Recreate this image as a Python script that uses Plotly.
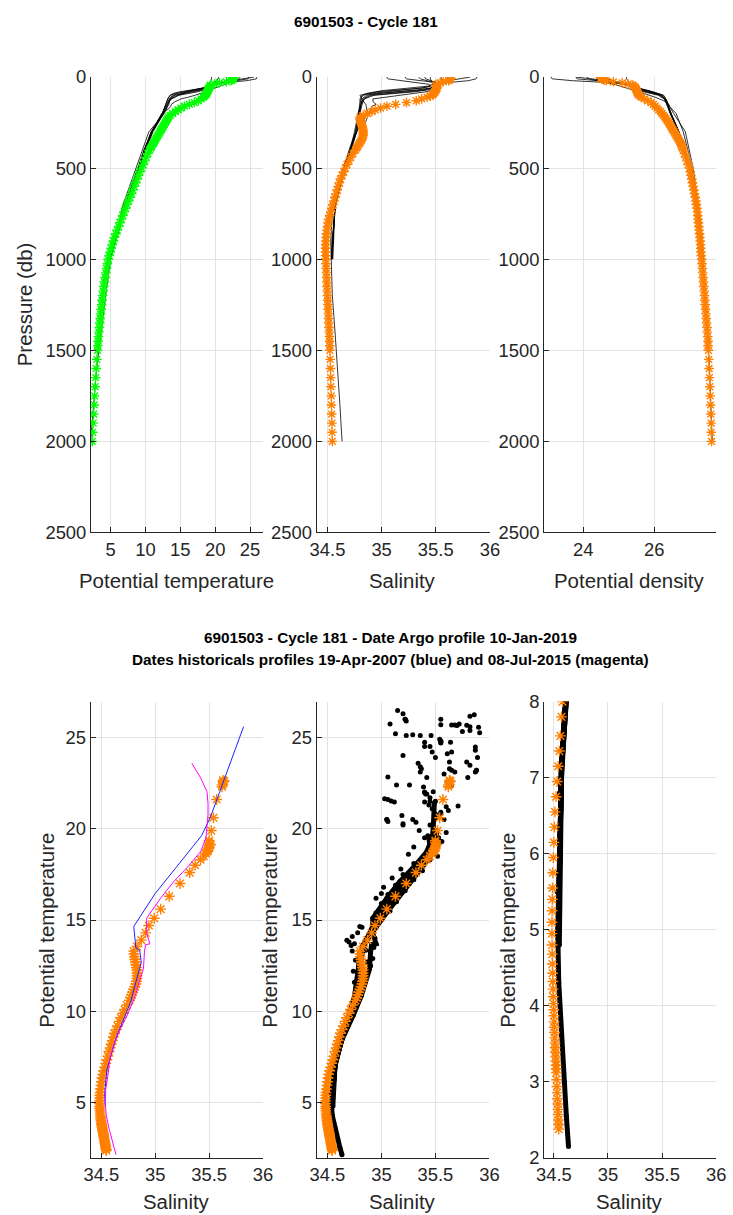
import plotly.graph_objects as go

# ---------------- Argo profile 6901503, cycle 181 ----------------
argo_pres = [4, 8, 12, 16, 20, 26, 32, 38, 44, 50, 56, 62, 68, 74, 80, 86, 92, 98, 104, 110,
             120, 130, 140, 150, 160, 170, 180, 190, 200, 210, 220, 230, 240, 250, 260, 270, 280, 290, 300,
             310, 320, 330, 340, 350, 360, 370, 380, 390, 400,
             420, 440, 460, 480, 500, 520, 540, 560, 580, 600, 620, 640, 660, 680, 700, 720, 740, 760, 780, 800,
             820, 840, 860, 880, 900, 920, 940, 960, 980, 1000,
             1025, 1050, 1075, 1100, 1125, 1150, 1175, 1200, 1225, 1250, 1275, 1300, 1325, 1350, 1375, 1400,
             1425, 1450, 1475, 1500,
             1550, 1600, 1650, 1700, 1750, 1800, 1850, 1900, 1950, 2000]
argo_theta = [22.65, 22.60, 22.55, 22.40, 22.30, 21.60, 20.60, 19.90, 19.35, 19.25, 19.15, 19.10, 19.00, 18.95,
              18.90, 18.80, 18.75, 18.65, 18.50, 18.30,
              18.00, 17.60, 17.00, 16.30, 15.60, 15.10, 14.70, 14.30, 13.90, 13.55, 13.30, 13.15, 13.00, 12.85,
              12.70, 12.55, 12.40, 12.25, 12.10,
              11.95, 11.80, 11.65, 11.50, 11.35, 11.20, 11.05, 10.90, 10.75, 10.60,
              10.35, 10.10, 9.90, 9.65, 9.45, 9.20, 9.00, 8.80, 8.60, 8.40, 8.20, 8.00, 7.80, 7.55, 7.35, 7.15,
              6.95, 6.75, 6.55, 6.35,
              6.15, 5.95, 5.75, 5.55, 5.40, 5.25, 5.10, 4.95, 4.80, 4.68,
              4.55, 4.43, 4.32, 4.22, 4.12, 4.03, 3.95, 3.87, 3.79, 3.72, 3.65, 3.58, 3.51, 3.45, 3.39, 3.33,
              3.27, 3.22, 3.17, 3.12,
              3.03, 2.94, 2.86, 2.78, 2.71, 2.64, 2.57, 2.50, 2.44, 2.38]
argo_sal = [35.63, 35.64, 35.63, 35.62, 35.62, 35.57, 35.54, 35.52, 35.50, 35.50, 35.51, 35.51, 35.50, 35.50,
            35.49, 35.49, 35.48, 35.47, 35.45, 35.42,
            35.37, 35.32, 35.23, 35.13, 35.05, 34.99, 34.94, 34.91, 34.87, 34.83, 34.80, 34.80, 34.805, 34.81,
            34.815, 34.82, 34.825, 34.83, 34.83,
            34.83, 34.83, 34.825, 34.82, 34.81, 34.80, 34.79, 34.78, 34.77, 34.76,
            34.735, 34.715, 34.70, 34.68, 34.665, 34.65, 34.635, 34.62, 34.61, 34.60, 34.59, 34.58, 34.57,
            34.56, 34.55, 34.54, 34.53, 34.52, 34.51, 34.505,
            34.50, 34.495, 34.49, 34.487, 34.485, 34.483, 34.482, 34.482, 34.483, 34.484,
            34.486, 34.488, 34.49, 34.492, 34.494, 34.496, 34.498, 34.50, 34.502, 34.504, 34.506, 34.508,
            34.51, 34.512, 34.514, 34.516, 34.518, 34.52, 34.521, 34.522,
            34.525, 34.528, 34.53, 34.532, 34.535, 34.537, 34.539, 34.541, 34.543, 34.545]
argo_sigma = [24.50, 24.52, 24.55, 24.60, 24.65, 24.85, 25.10, 25.27, 25.40, 25.43, 25.47, 25.48, 25.50, 25.51,
              25.52, 25.53, 25.54, 25.56, 25.60, 25.64,
              25.72, 25.82, 25.92, 25.98, 26.03, 26.08, 26.13, 26.18, 26.22, 26.26, 26.30, 26.34, 26.37, 26.41,
              26.44, 26.47, 26.50, 26.53, 26.56,
              26.59, 26.62, 26.65, 26.68, 26.71, 26.74, 26.76, 26.78, 26.80, 26.82,
              26.86, 26.89, 26.93, 26.96, 27.00, 27.02, 27.04, 27.06, 27.08, 27.10, 27.12, 27.14, 27.16, 27.18,
              27.19, 27.21, 27.22, 27.23, 27.24, 27.25,
              27.26, 27.27, 27.28, 27.29, 27.30, 27.31, 27.31, 27.32, 27.33, 27.34,
              27.35, 27.36, 27.37, 27.38, 27.39, 27.40, 27.41, 27.42, 27.43, 27.44, 27.45, 27.46, 27.47, 27.48,
              27.49, 27.50, 27.51, 27.52, 27.52, 27.53,
              27.54, 27.55, 27.56, 27.57, 27.58, 27.59, 27.60, 27.61, 27.61, 27.62]

# ---------------- Historical profile 19-Apr-2007 (blue) ----------------
blue_pres = [0, 30, 50, 75, 100, 125, 150, 200, 300, 500, 700, 900, 1000]
blue_theta = [25.59, 20.60, 19.62, 16.46, 14.65, 13.47, 13.35, 12.70, 10.50, 8.70, 6.80, 5.50, 4.80]
blue_sal = [35.82, 35.51, 35.43, 35.00, 34.80, 34.82, 34.855, 34.87, 34.77, 34.645, 34.55, 34.53, 34.535]
blue_sigma = [23.80, 25.10, 25.32, 25.85, 26.15, 26.35, 26.40, 26.55, 26.88, 27.10, 27.24, 27.34, 27.39]

# ---------------- Historical profile 08-Jul-2015 (magenta) ----------------
mag_pres = [0, 10, 20, 30, 40, 50, 60, 70, 80, 90, 100, 110, 120, 135, 150, 160, 175, 200, 250, 300,
            400, 500, 600, 700, 800, 900, 1000, 1200, 1400, 1600, 1800, 2000]
mag_theta = [23.58, 23.40, 22.80, 22.03, 21.40, 20.75, 20.00, 19.47, 18.74, 17.90, 17.10, 16.20, 15.10, 14.27,
             13.70, 13.65, 13.30, 12.33, 11.60, 10.87, 9.80, 9.05, 8.20, 7.40, 6.50, 5.75, 5.00, 4.30, 3.60,
             3.00, 2.55, 2.15]
mag_sal = [35.34, 35.36, 35.42, 35.48, 35.49, 35.49, 35.48, 35.47, 35.42, 35.30, 35.17, 35.05, 34.92, 34.92,
           34.95, 34.91, 34.90, 34.89, 34.85, 34.815, 34.74, 34.676, 34.615, 34.578, 34.56, 34.54, 34.535,
           34.545, 34.57, 34.595, 34.615, 34.635]
mag_sigma = [24.10, 24.17, 24.40, 24.68, 24.87, 25.05, 25.25, 25.38, 25.55, 25.72, 25.88, 26.02, 26.15, 26.32,
             26.42, 26.43, 26.50, 26.62, 26.72, 26.82, 26.95, 27.06, 27.14, 27.22, 27.28, 27.33, 27.38, 27.45,
             27.51, 27.56, 27.60, 27.64]

# ---------------- Other historical profiles (black) ----------------
hist_pres = [0, 5, 10, 20, 30, 40, 50, 60, 70, 80, 90, 100, 120, 150, 200, 300, 400, 500, 700, 1000]
h3_theta = [26.0, 26.0, 25.9, 24.5, 21.5, 19.8, 19.2, 18.8, 18.2, 17.0, 15.5, 14.3, 13.6, 13.2, 12.6, 11.0, 9.9, 9.0, 7.1, 4.9]
h3_sal = [35.22, 35.22, 35.23, 35.40, 35.50, 35.51, 35.50, 35.47, 35.41, 35.26, 35.06, 34.90, 34.84, 34.82, 34.80, 34.77, 34.71, 34.66, 34.57, 34.54]
h3_sigma = [23.10, 23.10, 23.14, 23.70, 24.68, 25.20, 25.37, 25.45, 25.55, 25.76, 26.02, 26.20, 26.30, 26.36, 26.45, 26.68, 26.87, 27.02, 27.21, 27.37]
h4_theta = [23.2, 23.2, 23.1, 22.8, 21.0, 19.5, 18.9, 18.5, 17.6, 16.0, 14.6, 13.9, 13.4, 13.0, 12.4, 10.9, 9.8, 8.9, 7.0, 4.8]
h4_sal = [35.88, 35.88, 35.87, 35.80, 35.62, 35.53, 35.50, 35.45, 35.33, 35.12, 34.95, 34.86, 34.82, 34.81, 34.79, 34.76, 34.70, 34.65, 34.57, 34.55]
h4_sigma = [24.37, 24.37, 24.40, 24.45, 24.95, 25.32, 25.45, 25.53, 25.66, 25.88, 26.08, 26.22, 26.30, 26.38, 26.48, 26.70, 26.88, 27.03, 27.21, 27.38]
h5_theta = [20.5, 20.5, 20.4, 20.2, 19.9, 19.5, 19.0, 18.3, 16.8, 15.0, 14.0, 13.5, 13.2, 12.9, 12.5, 10.8, 9.9, 9.0, 7.2, 4.9]
h5_sal = [35.05, 35.05, 35.06, 35.20, 35.35, 35.44, 35.45, 35.38, 35.17, 34.96, 34.86, 34.82, 34.81, 34.80, 34.79, 34.75, 34.71, 34.66, 34.57, 34.54]
h5_sigma = [24.65, 24.65, 24.68, 24.85, 25.05, 25.23, 25.38, 25.52, 25.72, 25.95, 26.15, 26.27, 26.33, 26.38, 26.46, 26.70, 26.86, 27.01, 27.20, 27.36]
h6_theta = [24.8, 24.8, 24.7, 23.0, 20.8, 19.6, 19.1, 18.6, 17.9, 16.5, 15.0, 14.1, 13.5, 13.1, 12.5, 11.0, 10.0, 9.1, 7.2, 4.9]
h6_sal = [35.55, 35.55, 35.55, 35.58, 35.55, 35.51, 35.49, 35.46, 35.38, 35.18, 34.98, 34.88, 34.83, 34.81, 34.79, 34.77, 34.71, 34.66, 34.57, 34.54]
h6_sigma = [23.80, 23.80, 23.84, 24.40, 25.00, 25.30, 25.42, 25.50, 25.60, 25.80, 26.02, 26.20, 26.30, 26.37, 26.47, 26.70, 26.86, 27.01, 27.20, 27.36]
h7_theta = [22.0, 22.0, 21.9, 21.5, 20.8, 19.9, 19.3, 18.9, 18.4, 17.6, 16.2, 14.8, 13.7, 13.2, 12.6, 11.1, 10.0, 9.1, 7.2, 4.9]
h7_sal = [35.40, 35.40, 35.41, 35.45, 35.50, 35.51, 35.50, 35.48, 35.43, 35.32, 35.10, 34.93, 34.84, 34.81, 34.80, 34.77, 34.72, 34.66, 34.57, 34.54]
h7_sigma = [24.50, 24.50, 24.53, 24.70, 24.95, 25.20, 25.35, 25.45, 25.54, 25.68, 25.90, 26.12, 26.28, 26.36, 26.46, 26.69, 26.86, 27.01, 27.20, 27.36]
h8_theta = [19.5, 19.5, 19.5, 19.4, 19.3, 19.1, 18.8, 18.2, 17.0, 15.5, 14.3, 13.6, 13.2, 12.9, 12.4, 10.9, 9.9, 9.0, 7.1, 4.9]
h8_sal = [35.45, 35.45, 35.45, 35.46, 35.47, 35.47, 35.45, 35.37, 35.20, 35.02, 34.90, 34.83, 34.80, 34.80, 34.79, 34.76, 34.71, 34.66, 34.57, 34.54]
h8_sigma = [25.22, 25.22, 25.22, 25.26, 25.30, 25.36, 25.42, 25.55, 25.72, 25.93, 26.12, 26.25, 26.33, 26.38, 26.48, 26.70, 26.87, 27.02, 27.21, 27.37]

# ---------------- Additional historical theta-S points ----------------
extra_theta = [26.48, 26.29, 25.74, 25.20, 25.10, 25.14, 25.10, 25.10, 24.74, 24.50, 24.20, 23.90, 26.00, 25.70,
               24.90, 24.74, 24.74, 24.10, 23.65, 23.28, 24.20, 25.68, 25.68, 25.65, 25.74, 25.33, 25.66, 26.16,
               26.24, 25.38, 25.56, 25.25, 24.47, 24.30, 23.90, 23.65, 23.47, 23.20, 23.10, 23.28, 23.10, 24.01,
               22.83, 22.40, 22.40, 22.28, 21.90, 21.70, 21.64, 21.60, 21.52, 21.46, 20.73, 20.27, 21.24, 22.37,
               21.46, 21.30, 21.10, 20.50, 20.35,
               19.50, 19.00, 18.60, 17.80, 17.30, 16.80, 16.20, 19.80, 20.50, 20.90, 21.20, 20.20, 19.30, 18.50,
               13.90, 13.80, 13.60, 14.10, 13.70, 14.30, 13.30, 12.80, 12.20, 11.60, 14.60, 14.00, 13.50, 12.90, 12.50,
               18.10, 17.50, 16.90, 16.40, 15.90, 15.40, 19.10, 18.80, 18.30, 17.70, 17.20, 16.60, 16.00, 15.50]
extra_sal = [35.15, 35.20, 35.08, 35.13, 35.23, 35.29, 35.36, 35.46, 35.40, 35.45, 35.47, 35.50, 35.55, 35.55,
             35.54, 35.55, 35.64, 35.61, 35.63, 35.63, 35.65, 35.65, 35.68, 35.70, 35.72, 35.75, 35.79, 35.82,
             35.86, 35.82, 35.90, 35.91, 35.87, 35.87, 35.89, 35.79, 35.82, 35.65, 35.68, 35.37, 35.36, 35.20,
             35.06, 35.14, 35.26, 35.39, 35.42, 35.45, 35.03, 35.06, 35.09, 35.12, 35.19, 35.20, 35.71, 35.65,
             35.40, 35.44, 35.47, 35.29, 35.32,
             35.40, 35.30, 35.25, 35.18, 35.10, 35.02, 34.95, 35.60, 35.58, 35.55, 35.60, 35.45, 35.56, 35.52,
             34.68, 34.70, 34.72, 34.73, 34.75, 34.78, 34.73, 34.76, 34.74, 34.75, 34.82, 34.94, 34.93, 34.92, 34.90,
             35.30, 35.20, 35.13, 35.06, 35.00, 34.95, 35.52, 35.50, 35.45, 35.38, 35.30, 35.22, 35.14, 35.08]

# ---------------- Figure geometry (target page pixels -> figure pixels) ----------------
SX, SY, OX, OY = 0.976, 0.982, 8.0, 10.0
W = int(round((733 - OX) / SX))
H = int(round((1215 - OY) / SY))
FS = 1 / ((SX + SY) / 2)     # font compensation
FONT = "Liberation Sans, Arial, Helvetica, sans-serif"
GREEN = "#00ff00"
ORANGE = "#ff8000"
TXT = "#262626"


def fx(px):
    return ((px - OX) / SX) / W


def fy(py):
    return 1 - ((py - OY) / SY) / H


hist_profiles = [
    (blue_pres, blue_theta, blue_sal, blue_sigma, False),
    (mag_pres, mag_theta, mag_sal, mag_sigma, True),
    (hist_pres, h3_theta, h3_sal, h3_sigma, True),
    (hist_pres, h4_theta, h4_sal, h4_sigma, True),
    (hist_pres, h5_theta, h5_sal, h5_sigma, True),
    (hist_pres, h6_theta, h6_sal, h6_sigma, True),
    (hist_pres, h7_theta, h7_sal, h7_sigma, True),
    (hist_pres, h8_theta, h8_sal, h8_sigma, True),
]


def asterisk(color, size):
    return dict(symbol="asterisk-open", size=size, color=color, line=dict(color=color, width=1.4))


fig = go.Figure()

# --- Top row: property vs pressure ---
for axn, idx in (("", 1), ("2", 2), ("3", 3)):
    for prof in hist_profiles:
        fig.add_trace(go.Scatter(x=prof[idx], y=prof[0], mode="lines",
                                 line=dict(color="black", width=0.8),
                                 xaxis="x" + axn, yaxis="y" + axn, showlegend=False, hoverinfo="skip"))

fig.add_trace(go.Scatter(x=argo_theta, y=argo_pres, mode="markers", marker=asterisk(GREEN, 8),
                         xaxis="x", yaxis="y", showlegend=False))
fig.add_trace(go.Scatter(x=argo_sal, y=argo_pres, mode="markers", marker=asterisk(ORANGE, 8),
                         xaxis="x2", yaxis="y2", showlegend=False))
fig.add_trace(go.Scatter(x=argo_sigma, y=argo_pres, mode="markers", marker=asterisk(ORANGE, 8),
                         xaxis="x3", yaxis="y3", showlegend=False))

# --- Bottom left: Argo + two historical profiles ---
fig.add_trace(go.Scatter(x=argo_sal, y=argo_theta, mode="markers", marker=asterisk(ORANGE, 9),
                         xaxis="x4", yaxis="y4", showlegend=False))
fig.add_trace(go.Scatter(x=blue_sal, y=blue_theta, mode="lines", line=dict(color="#2020ff", width=1),
                         xaxis="x4", yaxis="y4", showlegend=False))
fig.add_trace(go.Scatter(x=mag_sal, y=mag_theta, mode="lines", line=dict(color="#ff00ff", width=1),
                         xaxis="x4", yaxis="y4", showlegend=False))

# --- Bottom middle & right: all historical data ---
for axn in ("5", "6"):
    for prof in hist_profiles:
        pres, th, sa, dense = prof[0], prof[1], prof[2], prof[4]
        if dense:
            deep_s = [s for p, s in zip(pres, sa) if p >= 40]
            deep_t = [t for p, t in zip(pres, th) if p >= 40]
            fig.add_trace(go.Scatter(x=deep_s, y=deep_t, mode="lines", line=dict(color="black", width=5),
                                     xaxis="x" + axn, yaxis="y" + axn, showlegend=False, hoverinfo="skip"))
        fig.add_trace(go.Scatter(x=sa, y=th, mode="markers", marker=dict(color="black", size=5),
                                 xaxis="x" + axn, yaxis="y" + axn, showlegend=False))
    fig.add_trace(go.Scatter(x=extra_sal, y=extra_theta, mode="markers", marker=dict(color="black", size=5),
                             xaxis="x" + axn, yaxis="y" + axn, showlegend=False))
    fig.add_trace(go.Scatter(x=argo_sal, y=argo_theta, mode="markers", marker=asterisk(ORANGE, 9),
                             xaxis="x" + axn, yaxis="y" + axn, showlegend=False))

axis_common = dict(showline=True, linecolor=TXT, linewidth=1, ticks="inside", ticklen=5, tickcolor=TXT,
                   showgrid=True, gridcolor="#e3e3e3", gridwidth=1, zeroline=False, mirror=False,
                   tickfont=dict(family=FONT, size=18 * FS, color=TXT))

top_y = [fy(531), fy(76)]
bot_y = [fy(1156), fy(700)]
sal_ticks = dict(tickvals=[34.5, 35, 35.5, 36], ticktext=["34.5", "35", "35.5", "36"])
pres_ticks = dict(tickvals=[0, 500, 1000, 1500, 2000, 2500])

layout = dict(
    width=W, height=H, margin=dict(l=0, r=0, t=0, b=0), autosize=False,
    paper_bgcolor="white", plot_bgcolor="white", showlegend=False,
    font=dict(family=FONT, color=TXT),
    xaxis=dict(domain=[fx(91), fx(262.7)], anchor="y", range=[2.19, 26.81], tickvals=[5, 10, 15, 20, 25], **axis_common),
    yaxis=dict(domain=top_y, anchor="x", range=[2500, 0], **pres_ticks, **axis_common),
    xaxis2=dict(domain=[fx(316.7), fx(490)], anchor="y2", range=[34.4, 36], **sal_ticks, **axis_common),
    yaxis2=dict(domain=top_y, anchor="x2", range=[2500, 0], **pres_ticks, **axis_common),
    xaxis3=dict(domain=[fx(544.3), fx(716)], anchor="y3", range=[22.9, 27.74], tickvals=[24, 26], **axis_common),
    yaxis3=dict(domain=top_y, anchor="x3", range=[2500, 0], **pres_ticks, **axis_common),
    xaxis4=dict(domain=[fx(90.7), fx(263)], anchor="y4", range=[34.4, 36], **sal_ticks, **axis_common),
    yaxis4=dict(domain=bot_y, anchor="x4", range=[1.97, 26.96], tickvals=[5, 10, 15, 20, 25], **axis_common),
    xaxis5=dict(domain=[fx(316.7), fx(489.5)], anchor="y5", range=[34.4, 36], **sal_ticks, **axis_common),
    yaxis5=dict(domain=bot_y, anchor="x5", range=[1.97, 26.96], tickvals=[5, 10, 15, 20, 25], **axis_common),
    xaxis6=dict(domain=[fx(544.3), fx(716.3)], anchor="y6", range=[34.41, 36], **sal_ticks, **axis_common),
    yaxis6=dict(domain=bot_y, anchor="x6", range=[2, 8], tickvals=[2, 3, 4, 5, 6, 7, 8], **axis_common),
)
fig.update_layout(**layout)


def ann(text, x, y, size=20, angle=0, bold=False, color="black"):
    fig.add_annotation(text=("<b>%s</b>" % text) if bold else text, x=fx(x), y=fy(y),
                       xref="paper", yref="paper", showarrow=False, textangle=angle,
                       xanchor="center", yanchor="middle",
                       font=dict(family=FONT, size=size * FS, color=color))


ann("6901503 - Cycle 181", 366.5, 20, size=15, bold=True)
ann("6901503 - Cycle 181 - Date Argo profile 10-Jan-2019", 391, 636, size=15, bold=True)
ann("Dates historicals profiles 19-Apr-2007 (blue) and 08-Jul-2015 (magenta)", 391, 658, size=15, bold=True)

ann("Pressure (db)", 25, 303, angle=-90, color=TXT)
ann("Potential temperature", 177, 579, color=TXT)
ann("Salinity", 403, 579, color=TXT)
ann("Potential density", 630, 579, color=TXT)

ann("Potential temperature", 47, 928, angle=-90, color=TXT)
ann("Potential temperature", 270, 928, angle=-90, color=TXT)
ann("Potential temperature", 508, 928, angle=-90, color=TXT)
ann("Salinity", 177, 1200, color=TXT)
ann("Salinity", 403, 1200, color=TXT)
ann("Salinity", 630, 1200, color=TXT)

fig.write_html("out.html")
